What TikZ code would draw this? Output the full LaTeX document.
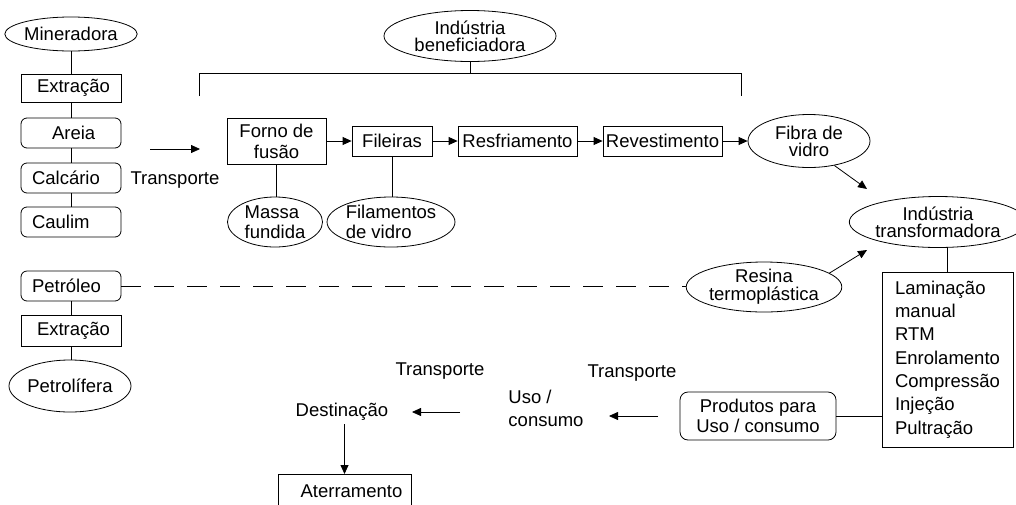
\documentclass[tikz,border=0pt]{standalone}
\usepackage{fontspec}
\setmainfont{Liberation Sans}
\usetikzlibrary{shapes.geometric,arrows.meta}
\newcommand{\fs}[1]{\fontsize{18.5pt}{#1pt}\selectfont}
\begin{document}
\begin{tikzpicture}[x=1pt,y=-1pt,
  every node/.style={font=\fs{19}},
  base/.style={line width=0.8pt, draw=black},
  ell/.style={base, ellipse, inner sep=0pt, align=center},
  box/.style={base, rectangle, inner sep=0pt, align=center},
  rbox/.style={box, rounded corners=6pt},
  conn/.style={line width=0.8pt, draw=black},
  arr/.style={conn, -{Triangle[length=9pt,width=8pt]}}
]
\useasboundingbox (0,0) rectangle (1016,504);

% left column: mineral chain
\node[ell, minimum width=125pt, minimum height=34pt] (miner) at (71,34) {Mineradora};
\node[box, minimum width=100pt, minimum height=28pt] (ext1) at (71,88) {\makebox[78pt][l]{\hspace{5pt}Extração}};
\node[rbox, minimum width=100pt, minimum height=30pt] (areia) at (71,133) {\makebox[78pt][l]{\hspace{20pt}Areia}};
\node[rbox, minimum width=100pt, minimum height=30pt] (calc) at (71,178) {\makebox[78pt][l]{Calcário}};
\node[rbox, minimum width=100pt, minimum height=30pt] (caulim) at (71,222) {\makebox[78pt][l]{Caulim}};
\draw[conn] (miner.south) -- (ext1.north);
\draw[conn] (ext1.south) -- (areia.north);
\draw[conn] (areia.south) -- (calc.north);
\draw[conn] (calc.south) -- (caulim.north);

\coordinate (t1a) at (150,149);
\coordinate (t1b) at (200,149);
\draw[arr] (t1a) -- (t1b);
\node (transp1) at (175,180) {Transporte};

% beneficiation industry
\node[ell, minimum width=172pt, minimum height=51pt, font=\fs{17}] (indb) at (470,36) {Indústria\\beneficiadora};
\coordinate (brl) at (199,96);
\coordinate (brlt) at (199,73);
\coordinate (brrt) at (741,73);
\coordinate (brr) at (741,96);
\draw[conn] (brl) -- (brlt) -- (brrt) -- (brr);
\draw[conn] (indb.south) -- (indb.south |- brlt);

\node[box, minimum width=99pt, minimum height=46pt, font=\fs{21}] (forno) at (276.5,141) {Forno de\\fusão};
\node[box, minimum width=80pt, minimum height=30pt] (fil) at (392,141) {Fileiras};
\node[box, minimum width=119pt, minimum height=30pt] (resf) at (517.5,141) {Resfriamento};
\node[box, minimum width=119pt, minimum height=30pt] (revest) at (662.5,141) {Revestimento};
\node[ell, minimum width=122pt, minimum height=53pt, font=\fs{17}] (fibra) at (809,141) {Fibra de\\vidro};
\draw[arr] (forno.east) -- (fil.west);
\draw[arr] (fil.east) -- (resf.west);
\draw[arr] (resf.east) -- (revest.west);
\draw[arr] (revest.east) -- (fibra.west);

\node[ell, minimum width=95pt, minimum height=50pt, font=\fs{20}, align=left] (massa) at (275,222) {Massa\\fundida};
\node[ell, minimum width=124pt, minimum height=50pt, font=\fs{20}, align=left] (filam) at (391,222) {Filamentos\\de vidro};
\draw[conn] (forno.south) -- (forno.south |- massa.north);
\draw[conn] (fil.south) -- (fil.south |- filam.north);

% transformation industry
\node[ell, minimum width=155pt, minimum height=51pt, font=\fs{17}] (indt) at (938,222) {Indústria\\transformadora};
\coordinate (fa) at (867,189);
\draw[arr] (fibra.-44) -- (fa);

\node[ell, minimum width=140pt, minimum height=50pt, font=\fs{18}] (resina) at (764,287) {Resina\\termoplástica};
\coordinate (ra) at (867,250);
\draw[arr] (resina.12) -- (ra);

\node[box, minimum width=131pt, minimum height=175pt, align=left, font=\fs{23.3}] (proc) at (947.5,359.5)
  {Laminação\\manual\\RTM\\Enrolamento\\Compressão\\Injeção\\Pultração};
\draw[conn] (proc.north) -- (proc.north |- indt.south);

% petroleum chain
\node[rbox, minimum width=100pt, minimum height=30pt] (petro) at (71,286) {\makebox[78pt][l]{Petróleo}};
\node[box, minimum width=100pt, minimum height=31pt] (ext2) at (71,331) {\makebox[78pt][l]{\hspace{5pt}Extração}};
\node[ell, minimum width=122pt, minimum height=52pt] (petrol) at (70,386) {Petrolífera};
\draw[conn] (petro.south) -- (ext2.north);
\draw[conn] (ext2.south) -- (ext2.south |- petrol.north);
\draw[conn, dash pattern=on 20pt off 13pt] (petro.east) -- (petro.east -| resina.west);

% products and destination
\node[rbox, minimum width=156pt, minimum height=48pt, rounded corners=8pt, font=\fs{20}] (prod) at (758,416) {Produtos para\\Uso / consumo};
\draw[conn] (prod.east) -- (prod.east -| proc.west);

\node (transp3) at (632,373) {Transporte};
\node[align=left, font=\fs{23}] (uso) at (546,408) {Uso /\\consumo};
\coordinate (ua) at (658,416);
\coordinate (ub) at (609,416);
\draw[arr] (ua) -- (ub);

\node (transp2) at (440,371) {Transporte};
\node (dest) at (342,412) {Destinação};
\coordinate (da) at (460,412);
\coordinate (db) at (412,412);
\draw[arr] (da) -- (db);

\node[box, minimum width=133pt, minimum height=34pt, anchor=north] (aterr) at (344.5,474) {\hspace{14pt}Aterramento};
\draw[arr] (aterr.north |- dest.south) -- (aterr.north);
\end{tikzpicture}
\end{document}
